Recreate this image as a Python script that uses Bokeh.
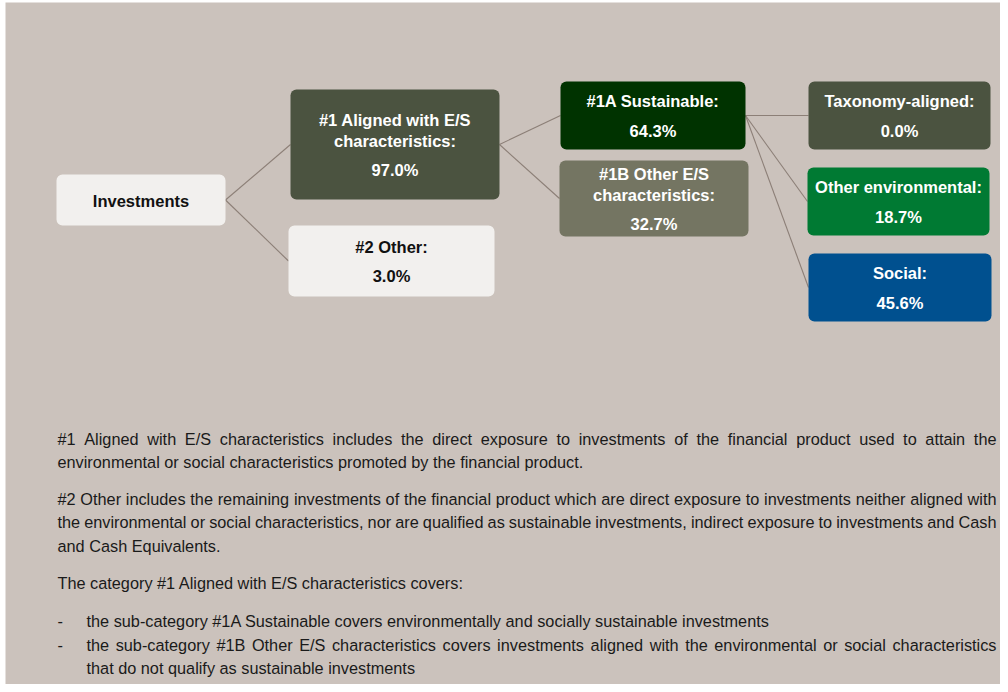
from bokeh.plotting import figure
from bokeh.models import Range1d, ColumnDataSource
from bokeh.core.properties import value
from bokeh.embed import file_html
from bokeh.resources import INLINE

# ---------------- data ----------------
node_label_lines = [["Investments"],
                    ["#1 Aligned with E/S", "characteristics:"],
                    ["#2 Other:"],
                    ["#1A Sustainable:"],
                    ["#1B Other E/S", "characteristics:"],
                    ["Taxonomy-aligned:"],
                    ["Other environmental:"],
                    ["Social:"]]
node_shares = [None, 97.0, 3.0, 64.3, 32.7, 0.0, 18.7, 45.6]
node_parents = [None, 0, 0, 1, 1, 3, 3, 3]

para1 = ["#1 Aligned with E/S characteristics includes the direct exposure to investments of the financial product used to attain the",
         "environmental or social characteristics promoted by the financial product."]
para2 = ["#2 Other includes the remaining investments of the financial product which are direct exposure to investments neither aligned with",
         "the environmental or social characteristics, nor are qualified as sustainable investments, indirect exposure to investments and Cash",
         "and Cash Equivalents."]
para3 = ["The category #1 Aligned with E/S characteristics covers:"]
bullet1 = ["the sub-category #1A Sustainable covers environmentally and socially sustainable investments"]
bullet2 = ["the sub-category #1B Other E/S characteristics covers investments aligned with the environmental or social characteristics",
           "that do not qualify as sustainable investments"]

# ---------------- layout / style ----------------
BG = "#cbc2bc"
box_xy = [(56, 174, 225, 225), (290, 89, 499, 199), (288, 225, 494, 296),
          (560, 81, 745, 149), (559, 160, 748, 236), (808, 81, 990, 149),
          (807, 167, 989, 235), (808, 253, 991, 321)]
box_fill = ["#f2f0ee", "#4b5340", "#f2f0ee", "#003300", "#747562",
            "#4b5340", "#007a33", "#00508f"]
box_text = ["#111111", "#ffffff", "#111111", "#ffffff", "#ffffff",
            "#ffffff", "#ffffff", "#ffffff"]
LINE_GAP = 20.5
VALUE_GAP = 29.5

FONT = value("Liberation Sans")
BOX_SIZE = 16.5
BODY_SIZE = 16.3

# Arial / Liberation Sans advance widths (1/1000 em) for justification
_W = {' ': 278, '#': 556, '/': 278, ',': 278, '.': 278, '-': 333, ':': 278,
      'A': 667, 'B': 667, 'C': 722, 'D': 722, 'E': 667, 'F': 611, 'G': 778, 'H': 722,
      'I': 278, 'J': 500, 'K': 667, 'L': 556, 'M': 833, 'N': 722, 'O': 778, 'P': 667,
      'Q': 778, 'R': 722, 'S': 667, 'T': 611, 'U': 722, 'V': 667, 'W': 944, 'X': 667,
      'Y': 667, 'Z': 611,
      'a': 556, 'b': 556, 'c': 500, 'd': 556, 'e': 556, 'f': 278, 'g': 556, 'h': 556,
      'i': 222, 'j': 222, 'k': 500, 'l': 222, 'm': 833, 'n': 556, 'o': 556, 'p': 556,
      'q': 556, 'r': 333, 's': 500, 't': 278, 'u': 556, 'v': 500, 'w': 722, 'x': 500,
      'y': 500, 'z': 500}


def text_width(s, size):
    return sum(_W.get(c, 556) for c in s) * size / 1000.0


p = figure(width=1000, height=684, x_range=Range1d(0, 1000), y_range=Range1d(684, 0),
           output_backend="svg", toolbar_location=None, min_border=0)
p.axis.visible = False
p.grid.visible = False
p.outline_line_color = None
p.background_fill_color = "#ffffff"
p.border_fill_color = "#ffffff"

# panel background
p.quad(left=[5], right=[1000], top=[2], bottom=[684], fill_color=BG, line_color=None)

# connectors
xs, ys = [], []
for i, par in enumerate(node_parents):
    if par is None:
        continue
    l, t, r, b = box_xy[par]
    cl, ct, cr, cb = box_xy[i]
    xs.append([r, cl])
    ys.append([(t + b) / 2, (ct + cb) / 2])
p.multi_line(xs, ys, line_color="#8c7f77", line_width=1.1)

# boxes
src = ColumnDataSource(dict(left=[b[0] for b in box_xy], right=[b[2] for b in box_xy],
                            top=[b[1] for b in box_xy], bottom=[b[3] for b in box_xy],
                            fill=box_fill))
p.quad(left="left", right="right", top="top", bottom="bottom", fill_color="fill",
       line_color=None, border_radius=6, source=src)

# box texts
tx, ty, tt, tc = [], [], [], []
for i, lines in enumerate(node_label_lines):
    l, t, r, b = box_xy[i]
    cx = (l + r) / 2
    cy = (t + b) / 2 + 0.5
    has_val = node_shares[i] is not None
    total = (len(lines) - 1) * LINE_GAP + (VALUE_GAP if has_val else 0)
    y0 = cy - total / 2
    for k, s in enumerate(lines):
        tx.append(cx); ty.append(y0 + k * LINE_GAP); tt.append(s); tc.append(box_text[i])
    if has_val:
        tx.append(cx); ty.append(y0 + (len(lines) - 1) * LINE_GAP + VALUE_GAP)
        tt.append(f"{node_shares[i]:.1f}%"); tc.append(box_text[i])
p.text(x=tx, y=ty, text=tt, text_color=tc, text_align="center", text_baseline="middle",
       text_font=FONT, text_font_style="bold", text_font_size=f"{BOX_SIZE}px")

# body paragraphs (justified like the source document)
X0, X_BULLET, X_END = 57, 86, 996
LH = 23.3
left_x, left_y, left_t = [], [], []
right_x, right_y, right_t = [], [], []


def place_line(s, x_start, y, justify):
    words = s.split(" ")
    if not justify or len(words) < 2:
        left_x.append(x_start); left_y.append(y); left_t.append(s)
        return
    widths = [text_width(w, BODY_SIZE) for w in words]
    gap = (X_END - x_start - sum(widths)) / (len(words) - 1)
    x = x_start
    for k, w in enumerate(words):
        if k == len(words) - 1:
            right_x.append(X_END); right_y.append(y); right_t.append(w)
        else:
            left_x.append(x); left_y.append(y); left_t.append(w)
        x += widths[k] + gap


y = 438
for para in (para1, para2, para3):
    for k, s in enumerate(para):
        place_line(s, X0, y, k < len(para) - 1)
        y += LH
    y += 14
y += 1
dash_x, dash_y = [], []
for blines in (bullet1, bullet2):
    dash_x.append(X0); dash_y.append(y)
    for k, s in enumerate(blines):
        place_line(s, X_BULLET, y, k < len(blines) - 1)
        y += LH

p.text(x=left_x, y=left_y, text=left_t, text_color="#1a1a1a", text_align="left",
       text_baseline="middle", text_font=FONT, text_font_size=f"{BODY_SIZE}px")
p.text(x=right_x, y=right_y, text=right_t, text_color="#1a1a1a", text_align="right",
       text_baseline="middle", text_font=FONT, text_font_size=f"{BODY_SIZE}px")
p.text(x=dash_x, y=dash_y, text=["-"] * len(dash_x), text_color="#1a1a1a", text_align="left",
       text_baseline="middle", text_font=FONT, text_font_size=f"{BODY_SIZE}px")

open("out.html", "w").write(file_html(p, INLINE))
